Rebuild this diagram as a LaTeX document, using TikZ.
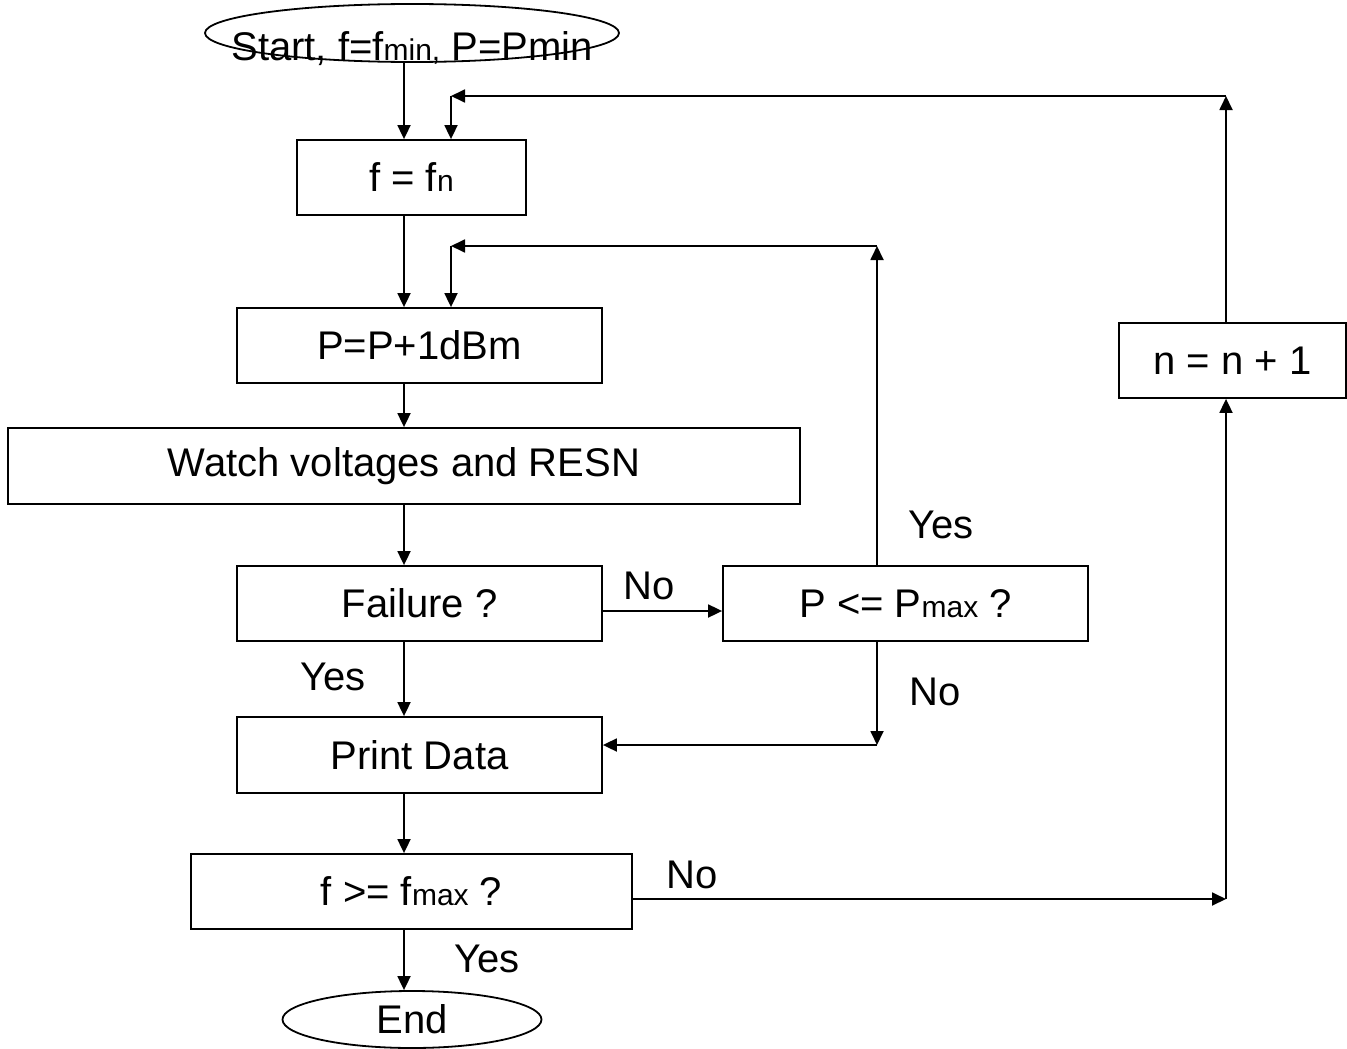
\documentclass[tikz,border=0pt]{standalone}
\usepackage{fontspec}
\setmainfont{Liberation Sans}
\usetikzlibrary{arrows.meta,shapes.geometric}
\newcommand{\smtxt}[1]{{\fontsize{30}{36}\selectfont #1}}
\begin{document}
\begin{tikzpicture}[x=1pt,y=-1pt, line width=1.8pt,
  box/.style={draw, rectangle, minimum height=75pt, inner sep=0pt, font=\fontsize{40}{48}\selectfont},
  term/.style={draw, ellipse, inner sep=0pt, font=\fontsize{40}{48}\selectfont},
  txt/.style={inner sep=0pt, font=\fontsize{40}{48}\selectfont},
  arr/.style={-{Triangle[length=14pt,width=13pt]}},
  lbl/.style={anchor=base, inner sep=0pt, font=\fontsize{40}{48}\selectfont}]
\useasboundingbox (0,0) rectangle (1347,1049);

% nodes
\node[term, minimum width=414pt, minimum height=58pt] (start) at (412,33) {};
\node[txt, anchor=base] (starttext) at (412,60) {Start, f=f\smtxt{min,} P=Pmin};
\node[box, minimum width=229pt] (fn) at (411.5,177.5) {f = f\smtxt{n}};
\node[box, minimum width=365pt] (pp) at (419.5,345.5) {P=P+1dBm};
\node[box, minimum width=792pt, minimum height=76pt] (watch) at (404,466) {Watch voltages and RESN};
\node[box, minimum width=365pt] (fail) at (419.5,603.5) {Failure ?};
\node[box, minimum width=365pt] (pmax) at (905.5,603.5) {P <= P\smtxt{max} ?};
\node[box, minimum width=365pt, minimum height=76pt] (print) at (419.5,755) {Print Data};
\node[box, minimum width=441pt] (fmax) at (411.5,891.5) {f >= f\smtxt{max} ?};
\node[box, minimum width=227pt] (ninc) at (1232.5,360.5) {n = n + 1};
\node[term, minimum width=259pt, minimum height=57pt] (end) at (412,1019.5) {End};

% helper coordinates
\coordinate (col) at (404,0);
\coordinate (lp) at (451,0);
\coordinate (rc) at (1226,0);
\coordinate (pc) at (877,0);
\coordinate (t1r) at (1226,96);
\coordinate (t1l) at (451,96);
\coordinate (t2r) at (877,246);
\coordinate (t2l) at (451,246);
\coordinate (nob) at (877,745);
\coordinate (fr) at (1226,899);
\coordinate (fy) at (0,611);

% main column
\draw[arr] (start.south -| col) -- (fn.north -| col);
\draw[arr] (fn.south -| col) -- (pp.north -| col);
\draw[arr] (pp.south -| col) -- (watch.north -| col);
\draw[arr] (watch.south -| col) -- (fail.north -| col);
\draw[arr] (fail.south -| col) -- (print.north -| col);
\draw[arr] (print.south -| col) -- (fmax.north -| col);
\draw[arr] (fmax.south -| col) -- (end.north -| col);

% failure -> pmax
\draw[arr] (fail.east |- fy) -- (pmax.west |- fy);

% pmax yes loop
\draw[arr] (pmax.north -| pc) -- (t2r);
\draw[arr] (t2r) -- (t2l);
\draw[arr] (t2l) -- (pp.north -| lp);

% pmax no
\draw[arr] (pmax.south -| pc) -- (nob);
\draw[arr] (nob) -- (print.east |- nob);

% fmax no
\draw[arr] (fmax.east |- fr) -- (fr);
\draw[arr] (fr) -- (ninc.south -| rc);

% n loop
\draw[arr] (ninc.north -| rc) -- (t1r);
\draw[arr] (t1r) -- (t1l);
\draw[arr] (t1l) -- (fn.north -| lp);

% labels
\node[lbl] (lno1) at (649,599) {No};
\node[lbl] (lyes1) at (941,538) {Yes};
\node[lbl] (lno2) at (935,705) {No};
\node[lbl] (lyes2) at (333,690) {Yes};
\node[lbl] (lno3) at (692,888) {No};
\node[lbl] (lyes3) at (487,972) {Yes};
\end{tikzpicture}
\end{document}
